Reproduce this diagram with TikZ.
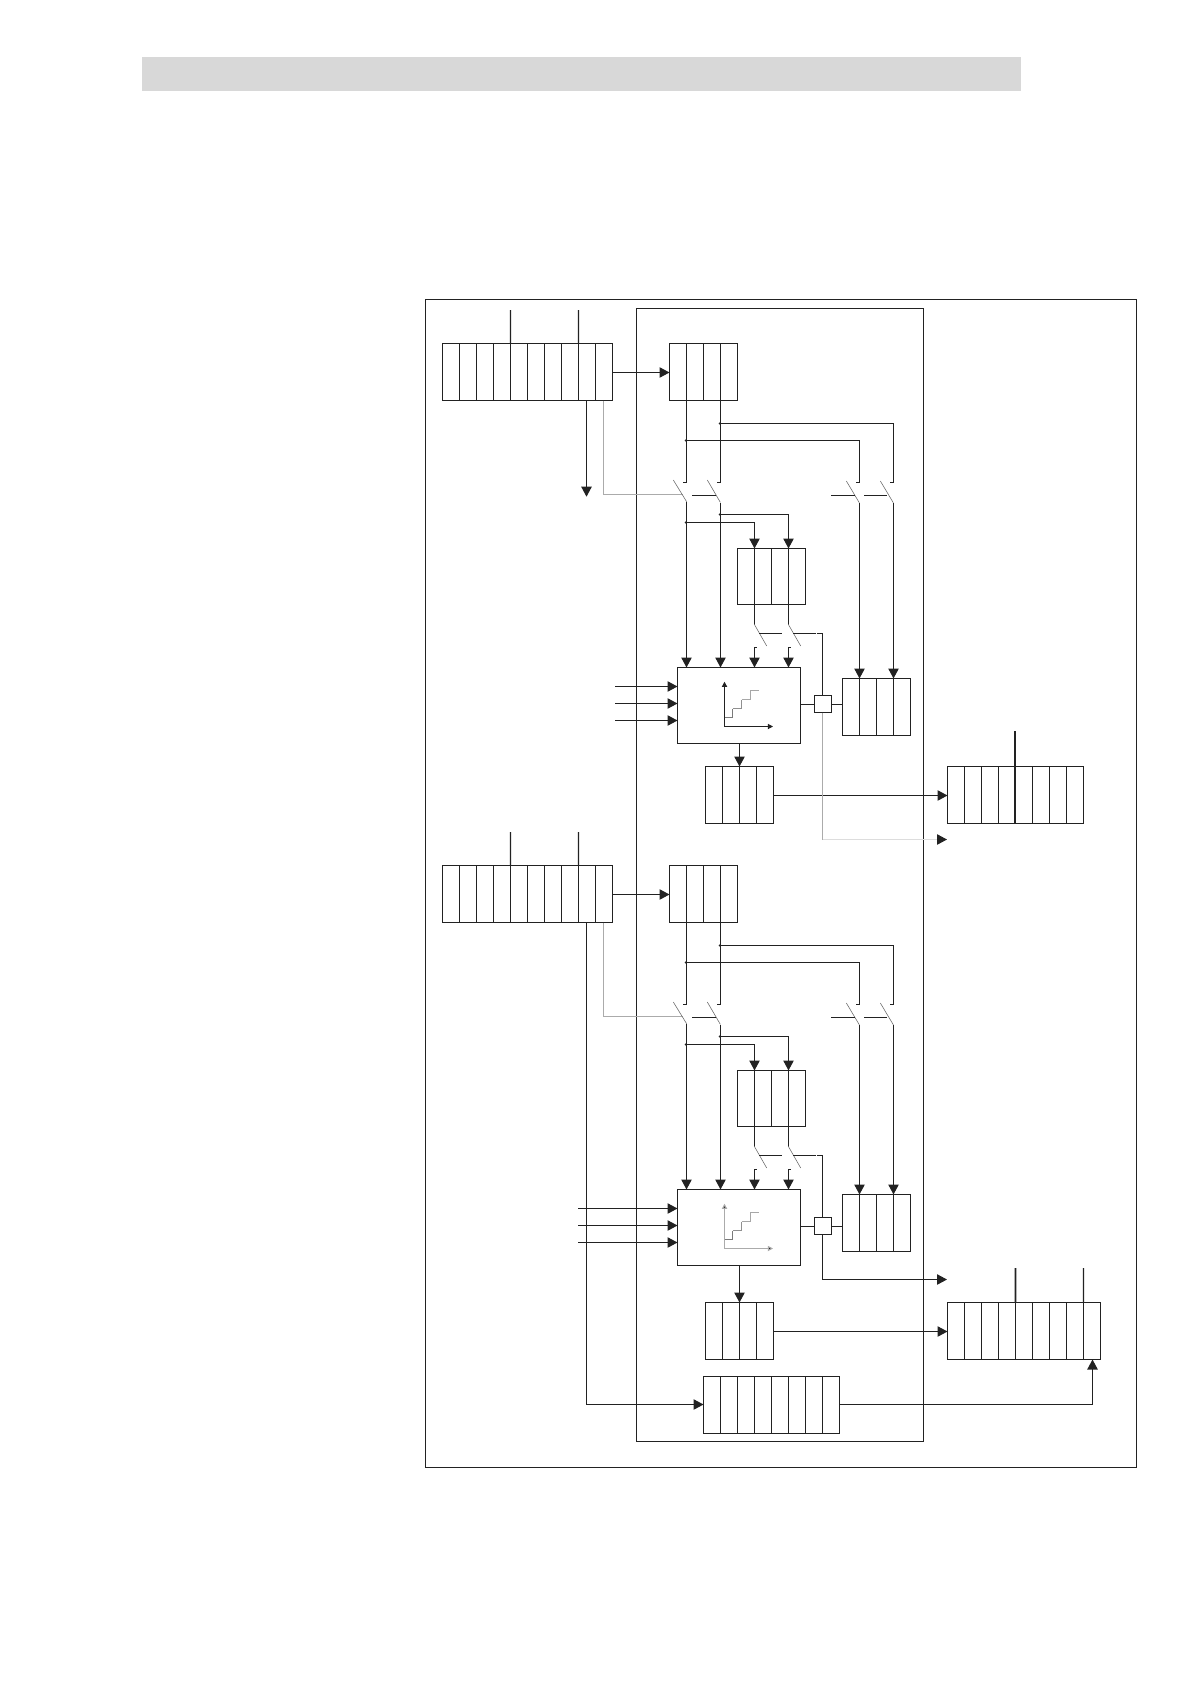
\documentclass[tikz,border=0pt]{standalone}
\usetikzlibrary{arrows.meta,calc}
\definecolor{ink}{HTML}{222222}
\definecolor{band}{HTML}{D8D8D8}
\definecolor{midgray}{HTML}{ABABAB}
\definecolor{palegray}{HTML}{DDDDDD}
\tikzset{
  x=0.5pt,y=-0.5pt,
  line/.style={draw=ink,line width=0.55pt},
  arr/.style={line,-{Triangle[length=5pt,width=5.2pt,fill=ink]}},
  thinarr/.style={line width=0.5pt,-{Triangle[length=2.6pt,width=2.6pt,fill=ink]}},
  greyline/.style={draw=midgray,line width=0.55pt},
  blade/.style={draw=ink!65,line width=0.3pt},
  frame/.style={draw=ink,line width=0.55pt,inner sep=0pt,outer sep=0pt},
  dot/.style={fill=ink,circle,inner sep=0pt,minimum size=1.2pt},
}
% name, x1, y1, x2, y2, number of cells
\newcommand{\cellbox}[6]{%
  \node[frame,minimum width={(#4-#2)*0.5pt},minimum height={(#5-#3)*0.5pt}] (#1) at ({(#2+#4)/2},{(#3+#5)/2}) {};
  \pgfmathtruncatemacro\lastcell{#6-1}
  \foreach \i [evaluate=\i as \f using \i/#6] in {1,...,\lastcell}{
    \coordinate (#1-\i-n) at ($(#1.north west)!\f!(#1.north east)$);
    \coordinate (#1-\i-s) at ($(#1.south west)!\f!(#1.south east)$);
    \draw[line] (#1-\i-n) -- (#1-\i-s);
  }%
}
% prefix, y shift, E top, axis colour, input start x
\newcommand{\module}[5]{%
\begin{scope}[shift={(0,#2)}]
  \cellbox{#1A}{442.5}{343.5}{612.5}{400.5}{10}
  \cellbox{#1B}{669.5}{343.5}{737.5}{400.5}{4}
  \cellbox{#1C}{737.5}{548.5}{805.5}{604.5}{4}
  \cellbox{#1E}{842.5}{#3}{910.5}{#3+57}{4}
  \node[frame,minimum width=61.5pt,minimum height=38pt] (#1D) at (739,705.5) {};
  \node[frame,minimum width=8.5pt,minimum height=8.5pt] (#1S) at (823,704) {};
  \coordinate (#1Sn) at (822.5,695.5); \coordinate (#1Ss) at (822.5,712.5);
  % ticks above A
  \coordinate (#1t1) at (510.5,310); \coordinate (#1t2) at (578.5,310);
  \draw[line] (#1t1) -- (#1A-4-n); \draw[line] (#1t2) -- (#1A-8-n);
  \draw[arr] ($(#1A.east)+(0,.5)$) -- ($(#1B.west)+(0,.5)$);
  % gray control line
  \draw[greyline] (603.5,400.5) |- (683,494.5);
  % upper pair of lines
  \coordinate (#1j1) at (685.8,440.5); \coordinate (#1j2) at (719.8,423.5);
  \coordinate (#1h1) at (683.3,482.5); \coordinate (#1h2) at (717,482.5);
  \coordinate (#1h3) at (856,482.5); \coordinate (#1h4) at (890,482.5);
  \draw[line] (#1B-1-s) |- (#1h1);
  \draw[line] (#1B-3-s) |- (#1h2);
  \draw[line] (#1j1) -| (859.5,482.5) -- (#1h3);
  \draw[line] (#1j2) -| (893.5,482.5) -- (#1h4);
  \node[dot] (#1d1) at (#1j1) {}; \node[dot] (#1d2) at (#1j2) {};
  % blades and control lines
  \draw[blade] (673.3,480) -- (686.6,501.7);
  \draw[blade] (707.3,480) -- (720.3,502.3);
  \draw[blade] (846.3,481) -- (859.3,502.7);
  \draw[blade] (880.3,481) -- (893.3,502.7);
  \draw[line] (692.3,495.5) -- (715.7,495.5);
  \draw[line] (831.3,495.5) -- (855,495.5);
  \draw[line] (864.3,495.5) -- (886.7,495.5);
  % lines into D and E
  \coordinate (#1b1) at (686.5,502); \coordinate (#1b2) at (720.5,502.5);
  \coordinate (#1b3) at (859.5,503); \coordinate (#1b4) at (893.5,503);
  \draw[arr] (#1b1) -- (#1b1 |- #1D.north);
  \draw[arr] (#1b2) -- (#1b2 |- #1D.north);
  \draw[arr] (#1b3) -- (#1b3 |- #1E.north);
  \draw[arr] (#1b4) -- (#1b4 |- #1E.north);
  % branches into C
  \coordinate (#1j3) at (685.8,522.5); \coordinate (#1j4) at (719.8,514.5);
  \draw[arr] (#1j3) -| (#1C-1-n);
  \draw[arr] (#1j4) -| (#1C-3-n);
  \node[dot] (#1d3) at (#1j3) {}; \node[dot] (#1d4) at (#1j4) {};
  % below C
  \draw[line] (#1C-1-s) -- ++(0,20);
  \draw[line] (#1C-3-s) -- ++(0,20);
  \draw[blade] (754.3,624.3) -- (766.7,646);
  \draw[blade] (788.3,624.3) -- (800.7,646);
  \draw[line] (759,633.5) -- (781.7,633.5);
  \draw[line] (793.3,633.5) -- (815.8,633.5);
  \coordinate (#1ctl) at (816.6,633.5);
  \draw[line] (#1ctl) -| (#1Sn);
  \coordinate (#1s1) at (756.7,647.5); \coordinate (#1s2) at (790.7,647.5);
  \draw[arr] (#1s1) -- (754.5,647.5) -- (754.5,667.5);
  \draw[arr] (#1s2) -- (788.5,647.5) -- (788.5,667.5);
  % D, square, E
  \draw[line] ($(#1D.east |- #1S.west)+(0,.5)$) -- ($(#1S.west)+(0,.5)$);
  \draw[line] ($(#1S.east)+(0,.5)$) -- ($(#1E.west |- #1S.east)+(0,.5)$);
  % inputs
  \coordinate (#1i1) at (#5,686.5); \coordinate (#1i2) at (#5,703.5); \coordinate (#1i3) at (#5,720.5);
  \draw[arr] (#1i1) -- (#1i1 -| #1D.west);
  \draw[arr] (#1i2) -- (#1i2 -| #1D.west);
  \draw[arr] (#1i3) -- (#1i3 -| #1D.west);
  % staircase
  \coordinate (#1o) at (724.5,726.5);
  \draw[#4,thinarr] (#1o) -- (724.5,681.7);
  \draw[#4,thinarr] (#1o) -- (773,726.5);
  \draw[draw=ink!60,line width=0.4pt] (724.5,717.5) -- (732.5,717.5) -- (732.5,708.5);
  \draw[draw=ink!50,line width=0.4pt] (732.5,708.5) -- (741.5,708.5) -- (741.5,699.5);
  \draw[draw=ink!40,line width=0.4pt] (741.5,699.5) -- (750.5,699.5) -- (750.5,690.5) -- (759,690.5);
\end{scope}}
\begin{document}
\begin{tikzpicture}
\useasboundingbox (0,0) rectangle (1191,1685);
\fill[band] (142,57) rectangle (1021,91);
\node[frame,minimum width=355.5pt,minimum height=584pt] (outer) at (781,883.5) {};
\node[frame,minimum width=143.5pt,minimum height=566.5pt] (inner) at (780,875) {};

\module{u}{0}{678.5}{ink}{615}
\module{l}{522}{672.5}{midgray}{578}

% upper part, outputs
\cellbox{uF}{705.5}{766.5}{773.5}{823.5}{4}
\cellbox{uG}{947.5}{766.5}{1083.5}{823.5}{8}
\draw[arr] (uD.south -| uF) -- (uF.north);
\draw[arr] ($(uF.east)+(0,.5)$) -- ($(uF.east -| uG.west)+(0,.5)$);
\coordinate (ut3) at (1015,731);
\draw[draw=ink,line width=1pt] (ut3) -- ($(uG-4-s)+(-.5,0)$);
\coordinate (ugc) at (822.5,839.5);
\coordinate (ugt) at (947,839.5);
\coordinate (ugm) at (937,839.5);
\draw[greyline] (uSs) -- (ugc);
\draw[draw=palegray,line width=0.7pt] (ugc) -- (ugm);
\draw[arr] (ugm) -- (ugt);

% lower part, outputs
\cellbox{lF}{705.5}{1302.5}{773.5}{1359.5}{4}
\cellbox{lG}{947.5}{1302.5}{1100.5}{1359.5}{9}
\cellbox{lH}{703.5}{1376.5}{839.5}{1433.5}{8}
\draw[arr] (lD.south -| lF) -- (lF.north);
\draw[arr] ($(lF.east)+(0,.5)$) -- ($(lF.east -| lG.west)+(0,.5)$);
\coordinate (lt3) at (1015.5,1268); \coordinate (lt4) at (1083.5,1268);
\draw[draw=ink,line width=0.8pt] (lt3) -- (lG-4-n);
\draw[line] (lt4) -- (lG-8-n);
\coordinate (lq) at (947,1279.5);
\draw[arr] (lSs) |- (lq);
\coordinate (lv) at (586.5,922.5);
\draw[arr] (lv) |- ($(lH.west)+(0,-.5)$);
\coordinate (lw) at (1092.5,1359.5);
\draw[arr] ($(lH.east)+(0,-.5)$) -| (lw);
% upper A drop
\coordinate (uv) at (586.5,400.5); \coordinate (uw) at (586.5,496.7);
\draw[arr] (uv) -- (uw);
\end{tikzpicture}
\end{document}
